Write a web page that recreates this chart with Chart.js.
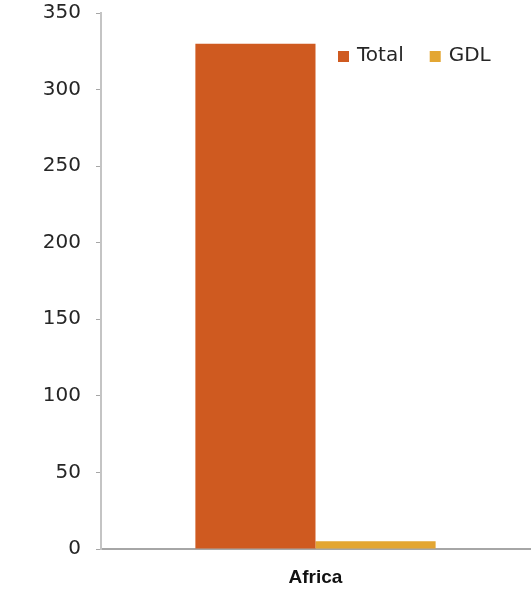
<!DOCTYPE html>
<html>
<head>
<meta charset="utf-8">
<script src="https://cdn.jsdelivr.net/npm/chart.js@4/dist/chart.umd.min.js"></script>
<style>
  html, body { margin: 0; padding: 0; background: #fff; }
  #wrap { width: 532px; height: 589px; position: relative; }
</style>
</head>
<body>
<div id="wrap"><canvas id="c" width="532" height="589"></canvas></div>
<script>
const categories = ['Africa'];
const seriesNames = ['Total', 'GDL'];
const totalValues = [330];
const gdlValues = [5];
const yTicks = [0, 50, 100, 150, 200, 250, 300, 350];
const seriesColors = ['#cf5a20', '#e3a632'];

const tickFont = '"DejaVu Sans", sans-serif';

// Legend drawn in the upper-right corner of the plot area
const insideLegend = {
  id: 'insideLegend',
  afterDraw(chart) {
    const ctx = chart.ctx;
    ctx.save();
    ctx.font = '20px ' + tickFont;
    ctx.textBaseline = 'middle';
    ctx.textAlign = 'left';
    let x = 338;
    const y = 56;
    chart.data.datasets.forEach((ds) => {
      ctx.fillStyle = ds.backgroundColor;
      ctx.fillRect(x, y - 5, 11, 11);
      ctx.fillStyle = '#262626';
      ctx.fillText(ds.label, x + 19, y);
      x += 19 + ctx.measureText(ds.label).width + 26;
    });
    ctx.restore();
  }
};

new Chart(document.getElementById('c'), {
  type: 'bar',
  data: {
    labels: categories,
    datasets: [
      { label: seriesNames[0], data: totalValues, backgroundColor: seriesColors[0] },
      { label: seriesNames[1], data: gdlValues, backgroundColor: seriesColors[1] }
    ]
  },
  plugins: [insideLegend],
  options: {
    responsive: false,
    animation: false,
    devicePixelRatio: 1,
    layout: { padding: { top: 13, right: 2, left: 0, bottom: 0 } },
    plugins: {
      legend: { display: false },
      tooltip: { enabled: false }
    },
    datasets: { bar: { categoryPercentage: 0.56, barPercentage: 1 } },
    scales: {
      x: {
        grid: { display: true, drawOnChartArea: false, drawTicks: false },
        border: { display: true, color: '#a6a6a6', width: 2 },
        ticks: {
          color: '#111',
          font: { family: '"Liberation Sans", Arial, sans-serif', size: 19, weight: 'bold' },
          padding: 17
        },
        afterFit(scale) { scale.height = 40; }
      },
      y: {
        min: 0,
        max: 350,
        afterBuildTicks(scale) { scale.ticks = yTicks.map(v => ({ value: v })); },
        grid: { display: true, drawOnChartArea: false, drawTicks: true, tickLength: 5, color: '#a6a6a6' },
        border: { display: true, color: '#c4c4c4', width: 2 },
        ticks: {
          color: '#262626',
          font: { family: tickFont, size: 20 },
          padding: 15
        },
        afterFit(scale) {
          scale.width = 101;
          scale.paddingTop = 0;
          scale.paddingBottom = 0;
        }
      }
    }
  }
});
</script>
</body>
</html>
